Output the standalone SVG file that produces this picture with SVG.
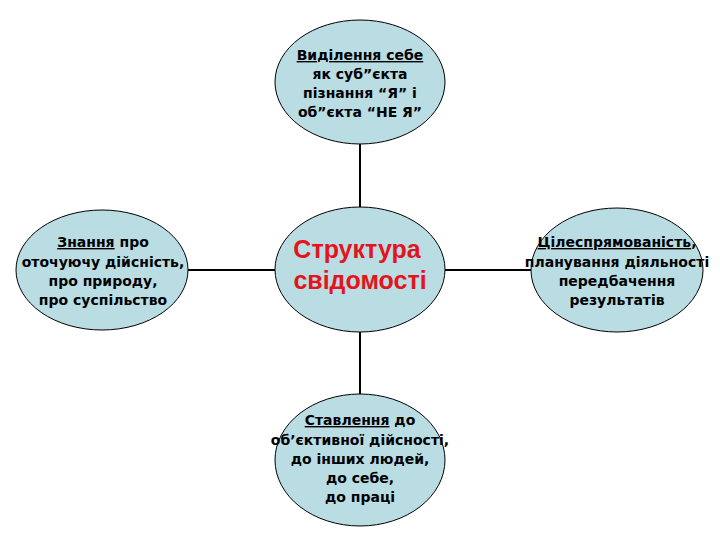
<svg xmlns="http://www.w3.org/2000/svg" width="720" height="540" viewBox="0 0 720 540">
<style>
.node{fill:#b9dde3;stroke:#000;stroke-width:1}
.t{font-family:"DejaVu Sans","Liberation Sans",sans-serif;font-weight:bold;font-size:14px;fill:#000;text-anchor:middle}
.big{font-family:"Liberation Sans","DejaVu Sans",sans-serif;font-weight:bold;font-size:25px;fill:#e3141b;text-anchor:middle}
.u{text-decoration:underline}
.conn line{stroke:#000;stroke-width:2}
</style>
<rect width="720" height="540" fill="#fff"/>
<g class="conn" id="connectors">
<line x1="360" y1="144" x2="360" y2="207"/>
<line x1="360" y1="332" x2="360" y2="394"/>
<line x1="188" y1="270" x2="275" y2="270"/>
<line x1="445" y1="270" x2="532" y2="270"/>
</g>
<g id="top">
<ellipse class="node" cx="360" cy="82" rx="85" ry="62"/>
<text class="t" x="360" y="60"><tspan class="u">Виділення себе</tspan></text>
<text class="t" x="360" y="79">як суб”єкта</text>
<text class="t" x="360" y="98">пізнання  “Я” і</text>
<text class="t" x="360" y="117">об”єкта “НЕ Я”</text>
</g>
<g id="center">
<ellipse class="node" cx="360" cy="269.5" rx="85" ry="62.5"/>
<text class="big" x="357" y="258">Структура</text>
<text class="big" x="360" y="289">свідомості</text>
</g>
<g id="left">
<ellipse class="node" cx="102" cy="270" rx="86" ry="60"/>
<text class="t" x="103" y="247"><tspan class="u">Знання</tspan> про</text>
<text class="t" x="103" y="267">оточуючу дійсність,</text>
<text class="t" x="103" y="286">про природу,</text>
<text class="t" x="103" y="305">про суспільство</text>
</g>
<g id="right">
<ellipse class="node" cx="617" cy="270" rx="86" ry="62"/>
<text class="t" x="617" y="247"><tspan class="u">Цілеспрямованість</tspan>,</text>
<text class="t" x="617" y="267">планування діяльності</text>
<text class="t" x="617" y="286">передбачення</text>
<text class="t" x="617" y="305">результатів</text>
</g>
<g id="bottom">
<ellipse class="node" cx="360" cy="460" rx="85" ry="66"/>
<text class="t" x="360" y="425"><tspan class="u">Ставлення</tspan> до</text>
<text class="t" x="360" y="445">об’єктивної дійсності,</text>
<text class="t" x="360" y="464">до інших людей,</text>
<text class="t" x="360" y="483">до себе,</text>
<text class="t" x="360" y="502">до праці</text>
</g>
</svg>
